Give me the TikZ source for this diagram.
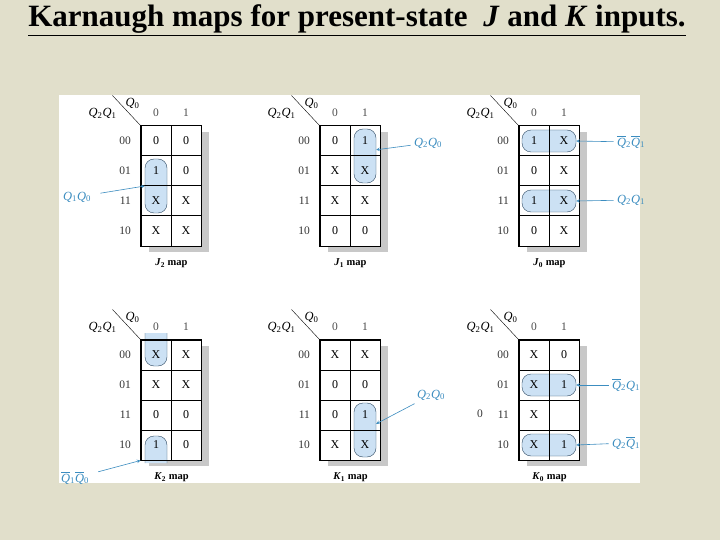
\documentclass[tikz,border=0pt]{standalone}
\usepackage{fontspec}
\setmainfont{Liberation Serif}
\usetikzlibrary{positioning, arrows}

\definecolor{pagebg}{HTML}{E1DFCB}
\definecolor{loopfill}{HTML}{CCE1F4}
\definecolor{loopline}{HTML}{2F4A63}
\definecolor{termblue}{HTML}{3C8DC0}
\definecolor{shadowgray}{HTML}{C8C8C8}

\newcommand{\Qs}[1]{\textit{Q}\textsubscript{#1}}
\newcommand{\Qb}[1]{$\overline{\mbox{\textit{Q}}}$\textsubscript{#1}}

\begin{document}
\begin{tikzpicture}[x=1pt, y=-1pt,
  cell/.style={rectangle, draw, line width=1pt, minimum size=30pt, inner sep=0pt, font=\fontsize{12}{13}\selectfont},
  rowlab/.style={font=\fontsize{11.5}{12}\selectfont, text=black!80},
  collab/.style={font=\fontsize{11.5}{12}\selectfont, text=black!70},
  varlab/.style={font=\fontsize{12.5}{13}\selectfont},
  maplab/.style={font=\bfseries\fontsize{10.5}{12}\selectfont},
  loopv/.style={rectangle, rounded corners=9pt, draw=loopline, fill=loopfill, minimum width=22pt, minimum height=54pt, inner sep=0pt},
  looph/.style={loopv, minimum width=54pt, minimum height=22pt},
  term/.style={text=termblue, font=\fontsize{12.5}{14}\selectfont},
  arrow/.style={->, >=stealth, termblue, semithick}]

  \useasboundingbox (0,0) rectangle (720,540);
  \fill[pagebg] (0,0) rectangle (720,540);
  \fill[white] (59,95) rectangle (640,483);

  \node[font=\bfseries\fontsize{31}{34}\selectfont] (title) at (357,20)
    {\underline{Karnaugh maps for present-state \ \textit{J} and \textit{K} inputs.}};

  % shadows behind the maps
  \foreach \gx/\gy in {141/126, 320/126, 519/126, 141/340, 320/340, 519/340} {
    \fill[shadowgray] (\gx+8,\gy+6) rectangle (\gx+68,\gy+126);
    \fill[white] (\gx,\gy) rectangle (\gx+60,\gy+120);
  }

  % groupings
  \node[loopv] (j2loop) at (156,186) {};
  \node[loopv] (j1loop) at (365,156) {};
  \node[looph] (j0loopa) at (549,141) {};
  \node[looph] (j0loopb) at (549,201) {};
  \node[loopv] (k1loop) at (365,430) {};
  \node[looph] (k0loopa) at (549,385) {};
  \node[looph] (k0loopb) at (549,445) {};
  \path[fill=loopfill, draw=loopline, rounded corners=9pt] (145,333) -- (145,366) -- (167,366) -- (167,333);
  \path[fill=loopfill, draw=loopline, rounded corners=9pt] (145,463) -- (145,436) -- (167,436) -- (167,463);

  % the six maps
  \foreach \m/\gx/\gy/\L/\n/\vals in {j2/141/126/J/2/{0,0,1,0,X,X,X,X},
      j1/320/126/J/1/{0,1,X,X,X,X,0,0}, j0/519/126/J/0/{1,X,0,X,1,X,0,X},
      k2/141/340/K/2/{X,X,X,X,0,0,1,0}, k1/320/340/K/1/{X,X,0,0,0,1,X,X},
      k0/519/340/K/0/{X,0,X,1,X,{},X,1}} {
    \foreach \v [count=\i from 0] in \vals {
      \pgfmathtruncatemacro\r{int(\i/2)}
      \pgfmathtruncatemacro\c{mod(\i,2)}
      \node[cell] (\m-\r-\c) at (\gx+15+30*\c, \gy+15+30*\r) {\v};
    }
    \draw[line width=1.8pt] (\m-0-0.north west) rectangle (\m-3-1.south east);
    \draw (\m-0-0.north west) -- ++(-28,-30);
    \node[collab, above=5pt of \m-0-0] (\m-c0) {0};
    \node[collab, above=5pt of \m-0-1] (\m-c1) {1};
    \foreach \code [count=\r from 0] in {00,01,11,10}
      \node[rowlab, left=6pt of \m-\r-0] (\m-r\r) {\code};
    \node[varlab] (\m-q0) at ([shift={(-8,-22)}]\m-0-0.north west) {\Qs0};
    \node[varlab] (\m-q21) at ([shift={(-38,-12)}]\m-0-0.north west) {\Qs2\Qs1};
    \node[maplab, below=9pt of \m-3-0.south east] (\m-name) {\textit{\L}\textsubscript{\n} map};
  }
  \node[rowlab] (k0stray) at (480,414) {0};

  % product terms
  \node[term] (j2t) at (77,197) {\Qs1\Qs0};
  \node[term] (j1t) at (428,143) {\Qs2\Qs0};
  \node[term] (j0ta) at (631,142) {\Qb2\Qb1};
  \node[term] (j0tb) at (631,200) {\Qs2\Qs1};
  \node[term] (k2t) at (75,478) {\Qb1\Qb0};
  \node[term] (k1t) at (431,395) {\Qs2\Qs0};
  \node[term] (k0ta) at (626,385) {\Qb2\Qs1};
  \node[term] (k0tb) at (626,443) {\Qs2\Qb1};

  \draw[arrow, shorten <=6pt] (j2t) -- (j2loop.west);
  \draw[arrow] (j1t) -- (j1loop.29);
  \draw[arrow] (j0ta) -- (j0loopa.east);
  \draw[arrow] (j0tb) -- (j0loopb.east);
  \draw[arrow, shorten <=6pt] (k2t) -- (k2-3-0.south west);
  \draw[arrow] (k1t) -- (k1loop.29);
  \draw[arrow] (k0ta) -- (k0loopa.east);
  \draw[arrow] (k0tb) -- (k0loopb.east);
\end{tikzpicture}
\end{document}
